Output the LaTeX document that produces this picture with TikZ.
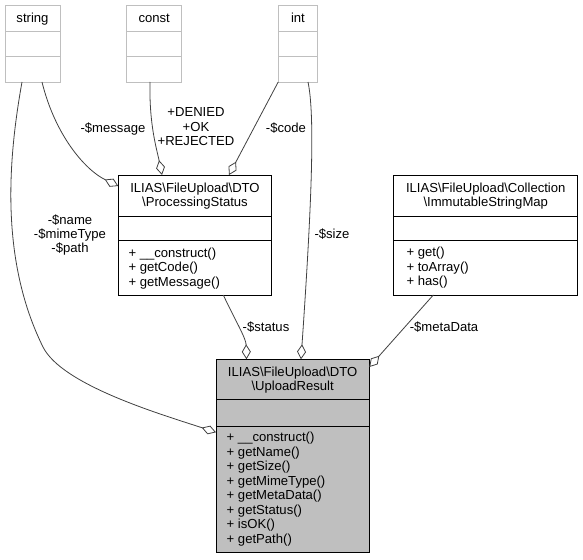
\documentclass[tikz,border=0pt]{standalone}
\usepackage{fontspec}
\setmainfont{Liberation Sans}
\usetikzlibrary{arrows.meta,calc}
\definecolor{grey75}{HTML}{BFBFBF}
\definecolor{grey25}{HTML}{404040}
\tikzset{
  box/.style={rectangle, inner sep=0pt, outer sep=0pt, anchor=north west, line width=0.8pt},
  cls/.style={box, draw=black},
  ucls/.style={box, draw=grey75},
  focus/.style={box, draw=black, fill=grey75},
  sep/.style={line width=0.8pt},
  txt/.style={inner sep=0pt, anchor=base, font=\fontsize{13.1}{14.6}\selectfont},
  mtxt/.style={txt, anchor=base west},
  agg/.style={draw=grey25, line width=0.8pt, -{Diamond[open, length=15pt, width=9pt]}},
}
\begin{document}
\begin{tikzpicture}[x=1pt,y=-1pt]
\useasboundingbox (0,0) rectangle (583,559);

% ---- undocumented type boxes
\node[ucls, minimum width=55pt, minimum height=77pt] (st) at (5,5) {};
\node[ucls, minimum width=55pt, minimum height=77pt] (co) at (126.7,5) {};
\node[ucls, minimum width=39.5pt, minimum height=77pt] (in) at (278.2,5) {};
\foreach \b in {st,co,in}{
  \draw[sep, grey75] ($(\b.north west)+(0,26.7)$) -- ($(\b.north east)+(0,26.7)$);
  \draw[sep, grey75] ($(\b.north west)+(0,51.7)$) -- ($(\b.north east)+(0,51.7)$);
}
\node[txt] (tst) at ($(st.north)+(0,17.5)$) {string};
\node[txt] (tco) at ($(co.north)+(0,17.5)$) {const};
\node[txt] (tin) at ($(in.north)+(0,17.5)$) {int};

% ---- ProcessingStatus
\node[cls, minimum width=153.4pt, minimum height=120pt] (ps) at (118.3,175) {};
\draw[sep] ($(ps.north west)+(0,41.2)$) -- ($(ps.north east)+(0,41.2)$);
\draw[sep] ($(ps.north west)+(0,65.7)$) -- ($(ps.north east)+(0,65.7)$);
\node[txt] (ps1) at ($(ps.north)+(0,17.6)$) {ILIAS\textbackslash FileUpload\textbackslash DTO};
\node[txt] (ps2) at ($(ps.north)+(0,31.1)$) {\textbackslash ProcessingStatus};
\node[mtxt] (psm1) at ($(ps.north west)+(10,82)$) {+ \_\_construct()};
\node[mtxt] (psm2) at ($(ps.north west)+(10,96.6)$) {+ getCode()};
\node[mtxt] (psm3) at ($(ps.north west)+(10,111.2)$) {+ getMessage()};

% ---- ImmutableStringMap
\node[cls, minimum width=183.9pt, minimum height=120pt] (ism) at (393.8,175) {};
\draw[sep] ($(ism.north west)+(0,41)$) -- ($(ism.north east)+(0,41)$);
\draw[sep] ($(ism.north west)+(0,65.7)$) -- ($(ism.north east)+(0,65.7)$);
\node[txt] (ism1) at ($(ism.north)+(0,17.2)$) {ILIAS\textbackslash FileUpload\textbackslash Collection};
\node[txt] (ism2) at ($(ism.north)+(0,31.1)$) {\textbackslash ImmutableStringMap};
\node[mtxt] (ismm1) at ($(ism.north west)+(12.5,81.5)$) {+ get()};
\node[mtxt] (ismm2) at ($(ism.north west)+(12.5,96.1)$) {+ toArray()};
\node[mtxt] (ismm3) at ($(ism.north west)+(12.5,110.7)$) {+ has()};

% ---- UploadResult (focus)
\node[focus, minimum width=153.3pt, minimum height=193pt] (ur) at (216,359.3) {};
\draw[sep] ($(ur.north west)+(0,40)$) -- ($(ur.north east)+(0,40)$);
\draw[sep] ($(ur.north west)+(0,66.7)$) -- ($(ur.north east)+(0,66.7)$);
\node[txt] (ur1) at ($(ur.north)+(0,17.4)$) {ILIAS\textbackslash FileUpload\textbackslash DTO};
\node[txt] (ur2) at ($(ur.north)+(0,30.9)$) {\textbackslash UploadResult};
\node[mtxt] (urm1) at ($(ur.north west)+(10.5,82.2)$) {+ \_\_construct()};
\node[mtxt] (urm2) at ($(ur.north west)+(10.5,96.8)$) {+ getName()};
\node[mtxt] (urm3) at ($(ur.north west)+(10.5,111.3)$) {+ getSize()};
\node[mtxt] (urm4) at ($(ur.north west)+(10.5,125.9)$) {+ getMimeType()};
\node[mtxt] (urm5) at ($(ur.north west)+(10.5,140.5)$) {+ getMetaData()};
\node[mtxt] (urm6) at ($(ur.north west)+(10.5,155.1)$) {+ getStatus()};
\node[mtxt] (urm7) at ($(ur.north west)+(10.5,169.6)$) {+ isOK()};
\node[mtxt] (urm8) at ($(ur.north west)+(10.5,184.2)$) {+ getPath()};

% ---- connectors
% string -> ProcessingStatus
\draw[agg] ($(st.south west)+(37,0)$) .. controls (55,135) and (85,170) .. ($(ps.north west)+(0,11)$);
% const -> ProcessingStatus
\draw[agg] ($(co.south west)+(23.3,0)$) .. controls (149,125) and (157,150) .. ($(ps.north west)+(43.7,0)$);
% int -> ProcessingStatus
\draw[agg] (in.south west) -- ($(ps.north west)+(110.7,0)$);
% string -> UploadResult
\draw[agg] ($(st.south west)+(17,0)$) .. controls (8,160) and (0,260) .. (43,347)
  .. controls (62,385) and (160,414) .. ($(ur.north west)+(0,73)$);
% int -> UploadResult
\draw[agg] ($(in.south west)+(29.8,0)$) .. controls (315,115) and (312,200) .. ($(ur.north west)+(85,0)$);
% ProcessingStatus -> UploadResult
\draw[agg] ($(ps.south west)+(105,0)$) .. controls (235,320) and (246,338) .. ($(ur.north west)+(30.5,0)$);
% ImmutableStringMap -> UploadResult
\draw[agg] ($(ism.south west)+(39.5,0)$) -- ($(ur.north east)+(0,7.7)$);

% ---- labels
\node[txt] (lmsg) at (113,132.5) {-\$message};
\node[txt] (lc1) at (196,116.5) {+DENIED};
\node[txt] (lc2) at (196,131.3) {+OK};
\node[txt] (lc3) at (196,146) {+REJECTED};
\node[txt] (lcode) at (286,132.5) {-\$code};
\node[txt] (ln1) at (70,224.5) {-\$name};
\node[txt] (ln2) at (70,238.7) {-\$mimeType};
\node[txt] (ln3) at (70,252.9) {-\$path};
\node[txt] (lsize) at (332,238.5) {-\$size};
\node[txt] (lstat) at (266,331.5) {-\$status};
\node[txt] (lmeta) at (444,331.5) {-\$metaData};
\end{tikzpicture}
\end{document}
